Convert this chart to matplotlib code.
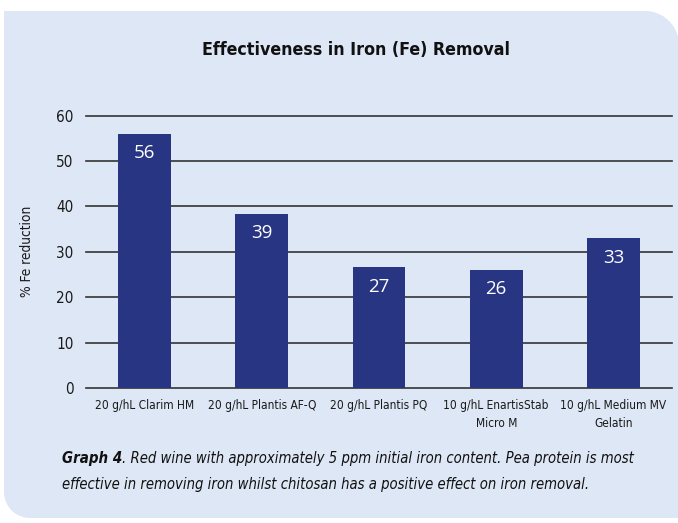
import matplotlib.pyplot as plt
import numpy as np
from matplotlib.path import Path
from matplotlib.patches import PathPatch

# data
treatments = ["20 g/hL Clarim HM", "20 g/hL Plantis AF-Q", "20 g/hL Plantis PQ",
              "10 g/hL EnartisStab\nMicro M", "10 g/hL Medium MV\nGelatin"]
fe_reduction = [56.0, 38.3, 26.6, 26.0, 33.0]
bar_labels = ["56", "39", "27", "26", "33"]
y_ticks = [0, 10, 20, 30, 40, 50, 60]

plt.rcParams['font.family'] = ['DejaVu Sans']
plt.rcParams['font.stretch'] = 'condensed'

W, H = 678, 523
fig = plt.figure(figsize=(W / 100, H / 100), dpi=100)
fig.patch.set_facecolor('white')

# light blue panel, rounded top-right and bottom-left corners (pixel coords)
def arc(cx, cy, r, a0, a1, n=20):
    t = np.linspace(np.radians(a0), np.radians(a1), n)
    return list(zip(cx + r * np.cos(t), cy + r * np.sin(t)))

x0, x1, y0, y1 = 4, 679, 5, 512
r1, r2 = 34, 26
pts = [(x0, y1)]
pts += arc(x1 - r1, y1 - r1, r1, 90, 0)
pts += [(x1, y0)]
pts += arc(x0 + r2, y0 + r2, r2, 270, 180)
pts += [(x0, y1)]
panel = PathPatch(Path(pts, closed=True), facecolor='#dee7f5', edgecolor='none',
                  transform=None, zorder=-5)
fig.patches.append(panel)

ax = fig.add_axes([86 / W, 1 - 388 / H, (672 - 86) / W, (388 - 115.5) / H])
ax.set_facecolor('none')

x = np.arange(len(treatments))
bars = ax.bar(x, fe_reduction, width=0.45, color='#283583', zorder=3)
for b, lab in zip(bars, bar_labels):
    ax.annotate(lab, (b.get_x() + b.get_width() / 2, b.get_height()),
                xytext=(0, -14), textcoords='offset points', ha='center', va='center',
                color='white', fontsize=13.5, family=['Open Sans', 'DejaVu Sans'],
                fontstretch='normal', zorder=4)

ax.set_xlim(-0.5, len(treatments) - 0.5)
ax.set_ylim(0, 60)
ax.set_yticks(y_ticks)
ax.yaxis.grid(True, color='#333333', linewidth=1.2, zorder=1)
for gl in ax.get_ygridlines():
    gl.set_clip_on(False)
ax.set_axisbelow(True)
for s in ax.spines.values():
    s.set_visible(False)
ax.tick_params(axis='y', length=0, pad=9, labelsize=11, labelcolor='#1a1a1a')
ax.tick_params(axis='x', length=0, pad=8, labelsize=8.6, labelcolor='#1a1a1a')
ax.set_xticks(x)
ax.set_xticklabels(treatments, linespacing=1.45, va='top')
ax.set_ylabel("% Fe reduction", fontsize=9.8, labelpad=16, color='#1a1a1a')

fig.text(356 / W, 1 - 50 / H, "Effectiveness in Iron (Fe) Removal", ha='center', va='center',
         fontsize=12.8, fontweight='bold', color='#111111')

g = fig.text(62 / W, 1 - 458 / H, "Graph 4", ha='left', va='center', fontsize=10.8,
             fontweight='bold', style='italic', color='#111111')
fig.canvas.draw()
gx = g.get_window_extent().x1 / W
fig.text(gx, 1 - 458 / H,
         ". Red wine with approximately 5 ppm initial iron content. Pea protein is most",
         ha='left', va='center', fontsize=10.6, style='italic', color='#111111')
fig.text(62 / W, 1 - 484 / H,
         "effective in removing iron whilst chitosan has a positive effect on iron removal.",
         ha='left', va='center', fontsize=10.6, style='italic', color='#111111')

fig.savefig('out.png', dpi=100)
